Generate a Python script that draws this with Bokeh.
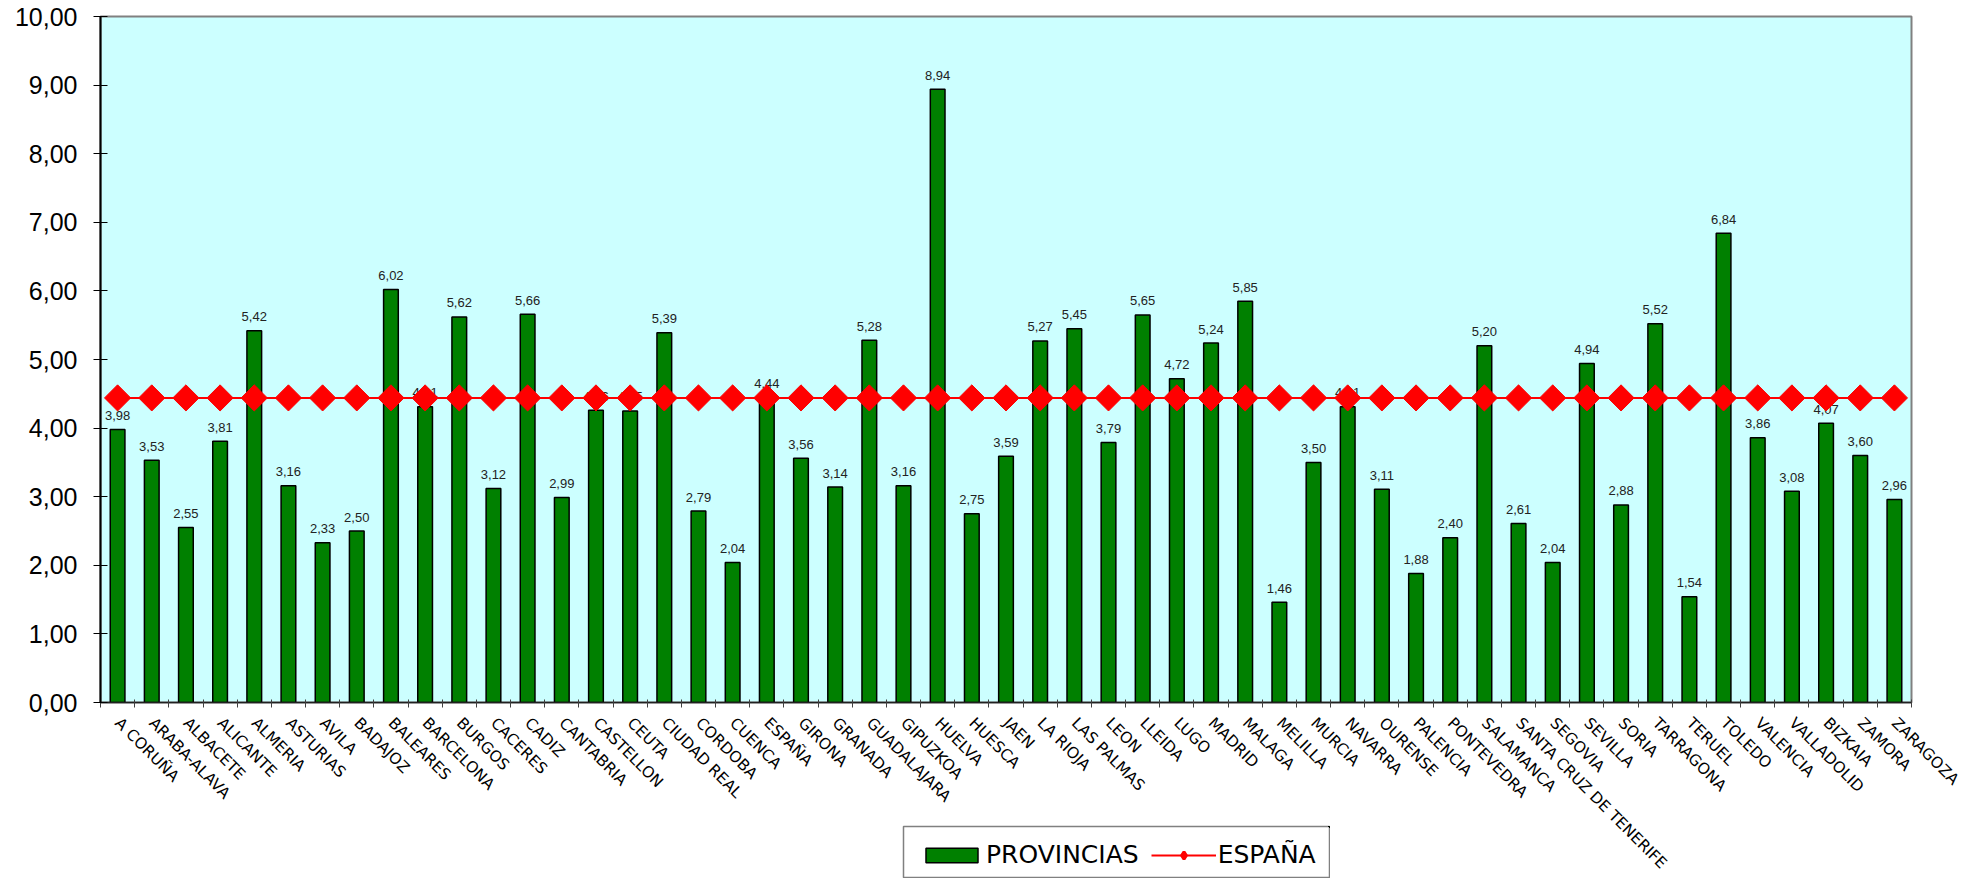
import math
from bokeh.plotting import figure
from bokeh.models import (Range1d, FixedTicker, Legend, LegendItem, ColumnDataSource)
from bokeh.core.properties import value
from bokeh.embed import file_html
from bokeh.resources import INLINE

provincias = ["A CORUÑA", "ARABA-ALAVA", "ALBACETE", "ALICANTE", "ALMERIA", "ASTURIAS",
              "AVILA", "BADAJOZ", "BALEARES", "BARCELONA", "BURGOS", "CACERES", "CADIZ",
              "CANTABRIA", "CASTELLON", "CEUTA", "CIUDAD REAL", "CORDOBA", "CUENCA",
              "ESPAÑA", "GIRONA", "GRANADA", "GUADALAJARA", "GIPUZKOA", "HUELVA", "HUESCA",
              "JAEN", "LA RIOJA", "LAS PALMAS", "LEON", "LLEIDA", "LUGO", "MADRID", "MALAGA",
              "MELILLA", "MURCIA", "NAVARRA", "OURENSE", "PALENCIA", "PONTEVEDRA",
              "SALAMANCA", "SANTA CRUZ DE TENERIFE", "SEGOVIA", "SEVILLA", "SORIA",
              "TARRAGONA", "TERUEL", "TOLEDO", "VALENCIA", "VALLADOLID", "BIZKAIA",
              "ZAMORA", "ZARAGOZA"]

valores = [3.98, 3.53, 2.55, 3.81, 5.42, 3.16,
           2.33, 2.50, 6.02, 4.31, 5.62, 3.12, 5.66,
           2.99, 4.26, 4.25, 5.39, 2.79, 2.04,
           4.44, 3.56, 3.14, 5.28, 3.16, 8.94, 2.75,
           3.59, 5.27, 5.45, 3.79, 5.65, 4.72, 5.24, 5.85,
           1.46, 3.50, 4.31, 3.11, 1.88, 2.40,
           5.20, 2.61, 2.04, 4.94, 2.88,
           5.52, 1.54, 6.84, 3.86, 3.08, 4.07,
           3.60, 2.96]

espana_valor = 4.44
espana = [espana_valor for _ in provincias]

y_ticks = [0, 1, 2, 3, 4, 5, 6, 7, 8, 9, 10]
y_tick_labels = ["0,00", "1,00", "2,00", "3,00", "4,00", "5,00", "6,00", "7,00", "8,00", "9,00", "10,00"]

serie_barras = "PROVINCIAS"
serie_linea = "ESPAÑA"

GREEN = "#008000"
RED = "#FF0000"

n = len(provincias)
xs = list(range(n))
etiquetas = [f"{v:.2f}".replace(".", ",") for v in valores]

src = ColumnDataSource(dict(x=xs, top=valores, lab=etiquetas, esp=espana))

p = figure(width=1972, height=881, output_backend="svg", toolbar_location=None,
           x_range=Range1d(-0.5, n - 0.5), y_range=Range1d(0, 10),
           min_border_left=100, min_border_right=61, min_border_top=16, min_border_bottom=178)

p.background_fill_color = "#CCFFFF"
p.border_fill_color = "white"
p.outline_line_color = "#808080"
p.outline_line_width = 2
p.xgrid.visible = False
p.ygrid.visible = False

bars = p.vbar(x="x", top="top", width=0.43, source=src, fill_color=GREEN,
              line_color="black", line_width=1.5)

p.text(x="x", y="top", text="lab", source=src, text_align="center",
       text_baseline="alphabetic", y_offset=-14, text_font=value("Liberation Sans"),
       text_font_size="13px", text_color="#222222")

ln = p.line(x="x", y="esp", source=src, line_color=RED, line_width=2)
sc = p.scatter(x="x", y="esp", source=src, marker="square", angle=math.pi / 4, size=18.5,
               fill_color=RED, line_color=RED)

# axes
xa = p.xaxis[0]
xa.ticker = FixedTicker(ticks=xs, minor_ticks=[i - 0.5 for i in range(n + 1)])
xa.major_label_overrides = {i: name for i, name in enumerate(provincias)}
xa.major_label_orientation = -math.pi / 4
xa.major_tick_in = 0
xa.major_tick_out = 0
xa.minor_tick_in = 3
xa.minor_tick_out = 5
xa.minor_tick_line_color = "#404040"
xa.axis_line_color = "#202020"
xa.axis_line_width = 1.5
xa.major_label_standoff = 13
xa.major_label_text_font = "DejaVu Sans"
xa.major_label_text_font_size = "15.5px"
xa.major_label_text_color = "black"

ya = p.yaxis[0]
ya.ticker = FixedTicker(ticks=y_ticks, minor_ticks=[])
ya.major_label_overrides = {t: l for t, l in zip(y_ticks, y_tick_labels)}
ya.major_tick_in = 7
ya.major_tick_out = 7
ya.major_tick_line_color = "black"
ya.axis_line_color = "black"
ya.axis_line_width = 2
ya.major_label_standoff = 16
ya.major_label_text_font = "Liberation Sans"
ya.major_label_text_font_size = "25px"
ya.major_label_text_color = "black"

# legend box, placed under the chart like the original
# (its swatch renderers share the data but sit outside this small frame's ranges)
leg = figure(width=428, height=53, output_backend="svg", toolbar_location=None,
             x_range=Range1d(-20, -19), y_range=Range1d(-20, -19),
             min_border_left=1, min_border_right=1, min_border_top=1, min_border_bottom=1)
leg.axis.visible = False
leg.grid.visible = False
leg.background_fill_color = "white"
leg.border_fill_color = "white"
leg.outline_line_color = "#808080"
leg.outline_line_width = 1.5
lb = leg.vbar(x="x", top="top", width=0.4, source=src, fill_color=GREEN,
              line_color="black", line_width=1.5)
ll = leg.line(x="x", y="esp", source=src, line_color=RED, line_width=2)
ls = leg.scatter(x="x", y="esp", source=src, marker="diamond", size=10,
                 fill_color=RED, line_color=RED, line_width=3)
legend = Legend(items=[LegendItem(label=serie_barras, renderers=[lb]),
                       LegendItem(label=serie_linea, renderers=[ll, ls])],
                location=(16, 8), orientation="horizontal",
                label_text_font="DejaVu Sans", label_text_font_size="25px",
                label_text_color="black", glyph_width=65, glyph_height=18,
                label_standoff=2, spacing=12, padding=0, margin=0,
                border_line_alpha=0, background_fill_alpha=0)
leg.add_layout(legend, "center")
leg.styles = {"position": "absolute", "left": "902px", "top": "825px"}

open("out.html", "w").write(file_html([p, leg], INLINE))
